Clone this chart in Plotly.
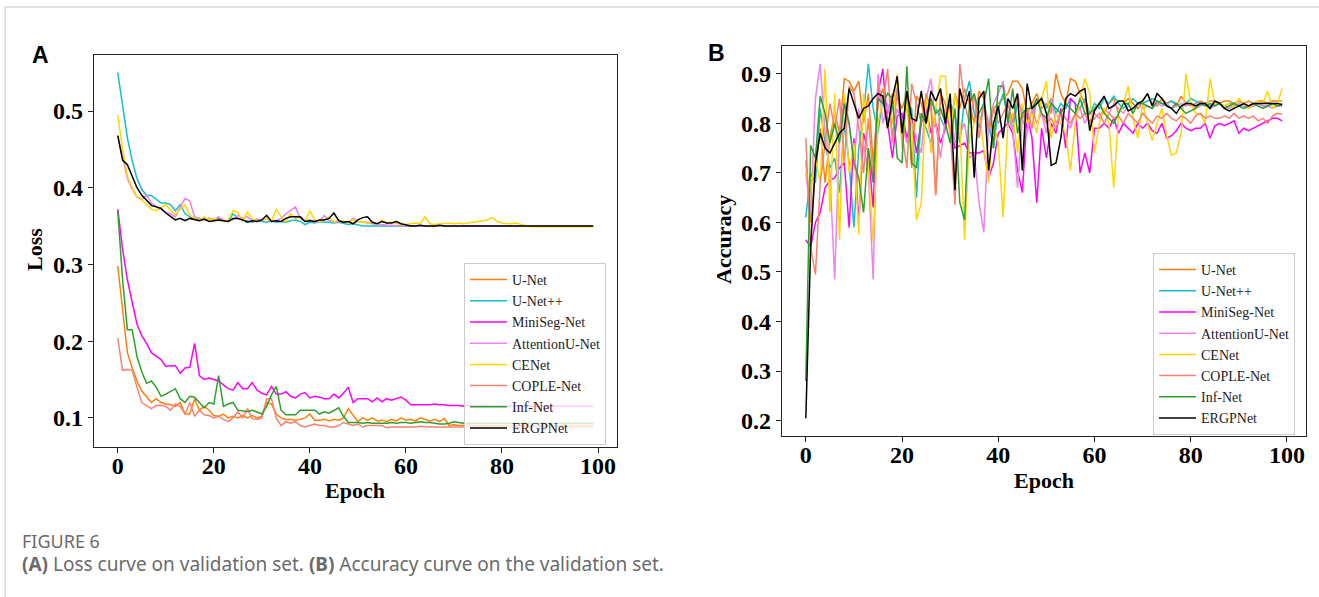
import plotly.graph_objects as go

# epochs shared by both panels
epochs = list(range(100))

model_names = ["U-Net", "U-Net++", "MiniSeg-Net", "AttentionU-Net",
               "CENet", "COPLE-Net", "Inf-Net", "ERGPNet"]
model_colors = ["#ff7f0e", "#17becf", "#ff00ff", "#ee82ee",
                "#ffd700", "#fa8072", "#2ca02c", "#000000"]

# ---- panel A: validation loss ----
unet_loss = [
    0.298, 0.240, 0.185, 0.165, 0.148, 0.135, 0.127, 0.120, 0.125, 0.120,
    0.118, 0.117, 0.115, 0.120, 0.105, 0.105, 0.125, 0.110, 0.115, 0.110,
    0.103, 0.102, 0.105, 0.100, 0.102, 0.100, 0.103, 0.100, 0.103, 0.100,
    0.102, 0.120, 0.118, 0.105, 0.100, 0.098, 0.098, 0.097, 0.098, 0.100,
    0.105, 0.097, 0.097, 0.098, 0.096, 0.098, 0.097, 0.100, 0.112, 0.103,
    0.095, 0.100, 0.097, 0.100, 0.096, 0.097, 0.095, 0.098, 0.096, 0.100,
    0.097, 0.098, 0.096, 0.100, 0.098, 0.096, 0.098, 0.095, 0.099, 0.090,
    0.091, 0.090, 0.090, 0.091, 0.090, 0.090, 0.090, 0.090, 0.090, 0.090,
    0.090, 0.090, 0.090, 0.090, 0.090, 0.090, 0.090, 0.090, 0.090, 0.090,
    0.090, 0.090, 0.090, 0.090, 0.090, 0.090, 0.090, 0.090, 0.090, 0.090]
unetpp_loss = [
    0.550, 0.505, 0.465, 0.435, 0.412, 0.398, 0.390, 0.390, 0.385, 0.380,
    0.380, 0.378, 0.370, 0.378, 0.366, 0.362, 0.360, 0.360, 0.358, 0.360,
    0.358, 0.360, 0.357, 0.356, 0.366, 0.360, 0.358, 0.357, 0.355, 0.358,
    0.356, 0.355, 0.357, 0.355, 0.356, 0.355, 0.357, 0.358, 0.356, 0.352,
    0.355, 0.354, 0.356, 0.355, 0.355, 0.354, 0.355, 0.353, 0.352, 0.353,
    0.351, 0.350, 0.350, 0.350, 0.350, 0.350, 0.350, 0.350, 0.350, 0.350,
    0.350, 0.350, 0.350, 0.350, 0.350, 0.350, 0.350, 0.350, 0.350, 0.350,
    0.350, 0.350, 0.350, 0.350, 0.350, 0.350, 0.350, 0.350, 0.350, 0.350,
    0.350, 0.350, 0.350, 0.350, 0.350, 0.350, 0.350, 0.350, 0.350, 0.350,
    0.350, 0.350, 0.350, 0.350, 0.350, 0.350, 0.350, 0.350, 0.350, 0.350]
miniseg_loss = [
    0.372, 0.320, 0.280, 0.250, 0.222, 0.207, 0.197, 0.185, 0.180, 0.176,
    0.167, 0.168, 0.168, 0.158, 0.165, 0.166, 0.197, 0.155, 0.150, 0.152,
    0.150, 0.148, 0.143, 0.138, 0.136, 0.146, 0.138, 0.138, 0.146, 0.136,
    0.132, 0.130, 0.141, 0.131, 0.131, 0.134, 0.128, 0.126, 0.131, 0.133,
    0.126, 0.128, 0.127, 0.125, 0.125, 0.131, 0.126, 0.132, 0.140, 0.120,
    0.125, 0.125, 0.125, 0.121, 0.126, 0.121, 0.125, 0.123, 0.125, 0.127,
    0.123, 0.117, 0.117, 0.117, 0.117, 0.117, 0.118, 0.117, 0.117, 0.116,
    0.116, 0.116, 0.115, 0.116, 0.116, 0.116, 0.116, 0.116, 0.115, 0.116,
    0.116, 0.115, 0.115, 0.115, 0.115, 0.115, 0.115, 0.115, 0.115, 0.115,
    0.115, 0.115, 0.115, 0.115, 0.115, 0.115, 0.115, 0.115, 0.115, 0.115]
attn_loss = [
    0.468, 0.440, 0.412, 0.398, 0.388, 0.385, 0.390, 0.380, 0.376, 0.372,
    0.368, 0.366, 0.362, 0.375, 0.386, 0.383, 0.362, 0.360, 0.358, 0.360,
    0.358, 0.362, 0.358, 0.356, 0.358, 0.364, 0.360, 0.362, 0.357, 0.359,
    0.357, 0.360, 0.356, 0.357, 0.360, 0.366, 0.370, 0.375, 0.360, 0.356,
    0.358, 0.355, 0.356, 0.364, 0.357, 0.356, 0.355, 0.356, 0.355, 0.360,
    0.356, 0.355, 0.355, 0.353, 0.352, 0.352, 0.351, 0.351, 0.350, 0.351,
    0.350, 0.350, 0.350, 0.350, 0.350, 0.350, 0.350, 0.350, 0.350, 0.350,
    0.350, 0.350, 0.350, 0.350, 0.350, 0.350, 0.350, 0.350, 0.350, 0.350,
    0.350, 0.350, 0.350, 0.350, 0.350, 0.350, 0.350, 0.350, 0.350, 0.350,
    0.350, 0.350, 0.350, 0.350, 0.350, 0.350, 0.350, 0.350, 0.350, 0.350]
cenet_loss = [
    0.495, 0.450, 0.415, 0.400, 0.388, 0.384, 0.378, 0.372, 0.370, 0.374,
    0.378, 0.370, 0.365, 0.372, 0.378, 0.364, 0.360, 0.358, 0.362, 0.358,
    0.360, 0.358, 0.356, 0.358, 0.370, 0.368, 0.356, 0.368, 0.360, 0.356,
    0.358, 0.360, 0.356, 0.372, 0.362, 0.356, 0.366, 0.360, 0.362, 0.356,
    0.370, 0.358, 0.356, 0.358, 0.362, 0.355, 0.358, 0.356, 0.354, 0.358,
    0.355, 0.356, 0.353, 0.356, 0.352, 0.358, 0.354, 0.355, 0.353, 0.352,
    0.352, 0.353, 0.354, 0.353, 0.362, 0.353, 0.352, 0.353, 0.353, 0.354,
    0.353, 0.354, 0.353, 0.354, 0.355, 0.356, 0.357, 0.358, 0.361, 0.356,
    0.354, 0.353, 0.353, 0.354, 0.352, 0.350, 0.349, 0.349, 0.349, 0.349,
    0.349, 0.349, 0.349, 0.349, 0.349, 0.349, 0.349, 0.349, 0.349, 0.349]
cople_loss = [
    0.204, 0.162, 0.163, 0.162, 0.140, 0.120, 0.116, 0.112, 0.116, 0.116,
    0.115, 0.110, 0.118, 0.115, 0.105, 0.120, 0.102, 0.110, 0.104, 0.103,
    0.100, 0.102, 0.098, 0.095, 0.100, 0.108, 0.100, 0.112, 0.099, 0.098,
    0.100, 0.125, 0.125, 0.100, 0.090, 0.095, 0.093, 0.095, 0.090, 0.088,
    0.090, 0.092, 0.090, 0.090, 0.088, 0.088, 0.090, 0.094, 0.092, 0.090,
    0.092, 0.088, 0.090, 0.090, 0.090, 0.090, 0.087, 0.088, 0.088, 0.088,
    0.088, 0.088, 0.088, 0.089, 0.088, 0.088, 0.088, 0.088, 0.088, 0.088,
    0.088, 0.088, 0.088, 0.088, 0.088, 0.088, 0.088, 0.088, 0.088, 0.088,
    0.088, 0.088, 0.088, 0.088, 0.088, 0.088, 0.088, 0.088, 0.088, 0.088,
    0.088, 0.088, 0.088, 0.088, 0.088, 0.088, 0.088, 0.088, 0.088, 0.088]
inf_loss = [
    0.370, 0.280, 0.215, 0.215, 0.180, 0.160, 0.145, 0.148, 0.140, 0.128,
    0.131, 0.134, 0.138, 0.125, 0.120, 0.128, 0.127, 0.120, 0.113, 0.120,
    0.118, 0.155, 0.115, 0.118, 0.120, 0.110, 0.109, 0.108, 0.110, 0.107,
    0.105, 0.115, 0.130, 0.141, 0.110, 0.104, 0.104, 0.104, 0.110, 0.110,
    0.110, 0.110, 0.105, 0.108, 0.106, 0.110, 0.113, 0.102, 0.094, 0.094,
    0.094, 0.093, 0.094, 0.093, 0.093, 0.093, 0.093, 0.094, 0.093, 0.094,
    0.094, 0.093, 0.094, 0.095, 0.094, 0.094, 0.093, 0.092, 0.092, 0.093,
    0.095, 0.094, 0.093, 0.093, 0.093, 0.093, 0.093, 0.093, 0.093, 0.093,
    0.093, 0.093, 0.093, 0.093, 0.093, 0.093, 0.093, 0.093, 0.093, 0.093,
    0.093, 0.093, 0.093, 0.093, 0.093, 0.093, 0.093, 0.093, 0.093, 0.093]
ergp_loss = [
    0.468, 0.436, 0.430, 0.415, 0.400, 0.390, 0.384, 0.377, 0.375, 0.373,
    0.367, 0.362, 0.358, 0.360, 0.357, 0.360, 0.358, 0.357, 0.359, 0.356,
    0.357, 0.358, 0.357, 0.356, 0.360, 0.360, 0.358, 0.355, 0.357, 0.356,
    0.358, 0.364, 0.356, 0.357, 0.356, 0.360, 0.362, 0.362, 0.362, 0.356,
    0.357, 0.356, 0.358, 0.358, 0.360, 0.367, 0.357, 0.355, 0.356, 0.353,
    0.358, 0.361, 0.362, 0.355, 0.353, 0.356, 0.354, 0.354, 0.356, 0.353,
    0.351, 0.350, 0.350, 0.351, 0.350, 0.350, 0.350, 0.351, 0.350, 0.350,
    0.350, 0.350, 0.350, 0.350, 0.350, 0.350, 0.350, 0.350, 0.350, 0.350,
    0.350, 0.350, 0.350, 0.350, 0.350, 0.350, 0.350, 0.350, 0.350, 0.350,
    0.350, 0.350, 0.350, 0.350, 0.350, 0.350, 0.350, 0.350, 0.350, 0.350]

# ---- panel B: validation accuracy ----
unet_acc = [
    0.725, 0.60, 0.70, 0.79, 0.68, 0.77, 0.82, 0.78, 0.89, 0.885,
    0.865, 0.885, 0.80, 0.86, 0.72, 0.84, 0.87, 0.82, 0.86, 0.85,
    0.83, 0.86, 0.71, 0.855, 0.84, 0.80, 0.85, 0.655, 0.86, 0.84,
    0.78, 0.86, 0.83, 0.87, 0.84, 0.80, 0.865, 0.85, 0.78, 0.83,
    0.84, 0.85, 0.86, 0.885, 0.885, 0.87, 0.82, 0.84, 0.86, 0.83,
    0.84, 0.82, 0.90, 0.86, 0.84, 0.89, 0.885, 0.86, 0.84, 0.80,
    0.83, 0.84, 0.82, 0.84, 0.85, 0.82, 0.84, 0.85, 0.84, 0.83,
    0.845, 0.86, 0.84, 0.835, 0.85, 0.84, 0.845, 0.835, 0.855, 0.84,
    0.835, 0.84, 0.845, 0.84, 0.845, 0.845, 0.84, 0.845, 0.845, 0.84,
    0.845, 0.84, 0.845, 0.84, 0.845, 0.845, 0.84, 0.845, 0.845, 0.845]
unetpp_acc = [
    0.61, 0.70, 0.68, 0.83, 0.76, 0.71, 0.73, 0.66, 0.80, 0.72,
    0.59, 0.75, 0.82, 0.92, 0.83, 0.78, 0.85, 0.80, 0.83, 0.87,
    0.79, 0.84, 0.83, 0.65, 0.82, 0.79, 0.76, 0.83, 0.81, 0.79,
    0.84, 0.82, 0.76, 0.85, 0.885, 0.82, 0.79, 0.84, 0.80, 0.75,
    0.83, 0.86, 0.81, 0.79, 0.84, 0.83, 0.80, 0.82, 0.84, 0.85,
    0.83, 0.85, 0.82, 0.84, 0.83, 0.85, 0.84, 0.83, 0.85, 0.82,
    0.84, 0.83, 0.85, 0.84, 0.855, 0.84, 0.83, 0.84, 0.85, 0.84,
    0.84, 0.845, 0.85, 0.845, 0.84, 0.84, 0.845, 0.84, 0.83, 0.84,
    0.85, 0.845, 0.84, 0.84, 0.835, 0.84, 0.84, 0.835, 0.84, 0.84,
    0.835, 0.84, 0.835, 0.835, 0.84, 0.835, 0.835, 0.84, 0.835, 0.835]
miniseg_acc = [
    0.565, 0.55, 0.60, 0.62, 0.67, 0.685, 0.69, 0.71, 0.72, 0.59,
    0.77, 0.60, 0.78, 0.74, 0.63, 0.86, 0.91, 0.80, 0.73, 0.815,
    0.82, 0.77, 0.81, 0.74, 0.80, 0.83, 0.78, 0.80, 0.76, 0.79,
    0.84, 0.75, 0.755, 0.76, 0.74, 0.74, 0.74, 0.745, 0.69, 0.72,
    0.78, 0.79, 0.80, 0.78, 0.705, 0.66, 0.82, 0.77, 0.64, 0.79,
    0.73, 0.80, 0.78, 0.83, 0.75, 0.85, 0.84, 0.70, 0.74, 0.70,
    0.79, 0.79, 0.80, 0.79, 0.81, 0.78, 0.80, 0.79, 0.78, 0.80,
    0.79, 0.80, 0.785, 0.78, 0.80, 0.77, 0.775, 0.785, 0.80, 0.79,
    0.785, 0.79, 0.79, 0.80, 0.77, 0.795, 0.80, 0.795, 0.80, 0.805,
    0.78, 0.79, 0.785, 0.79, 0.795, 0.80, 0.805, 0.81, 0.81, 0.805]
attn_acc = [
    0.70, 0.62, 0.85, 0.92, 0.78, 0.70, 0.485, 0.78, 0.85, 0.80,
    0.72, 0.83, 0.76, 0.70, 0.485, 0.90, 0.80, 0.84, 0.78, 0.83,
    0.80, 0.76, 0.80, 0.77, 0.74, 0.85, 0.89, 0.80, 0.73, 0.81,
    0.83, 0.76, 0.78, 0.80, 0.73, 0.74, 0.64, 0.58, 0.80, 0.84,
    0.86, 0.885, 0.82, 0.79, 0.67, 0.81, 0.78, 0.83, 0.80, 0.82,
    0.78, 0.85, 0.80, 0.82, 0.81, 0.79, 0.82, 0.83, 0.80, 0.82,
    0.82, 0.81, 0.83, 0.82, 0.84, 0.83, 0.82, 0.835, 0.83, 0.84,
    0.83, 0.835, 0.83, 0.84, 0.835, 0.84, 0.83, 0.835, 0.84, 0.835,
    0.84, 0.83, 0.835, 0.84, 0.83, 0.835, 0.84, 0.835, 0.83, 0.835,
    0.84, 0.835, 0.83, 0.835, 0.84, 0.835, 0.835, 0.83, 0.835, 0.835]
cenet_acc = [
    0.70, 0.66, 0.73, 0.68, 0.91, 0.62, 0.86, 0.565, 0.86, 0.70,
    0.76, 0.575, 0.86, 0.72, 0.56, 0.80, 0.85, 0.79, 0.80, 0.90,
    0.75, 0.84, 0.80, 0.605, 0.64, 0.86, 0.74, 0.83, 0.895, 0.895,
    0.77, 0.86, 0.80, 0.565, 0.77, 0.80, 0.82, 0.75, 0.68, 0.80,
    0.76, 0.61, 0.80, 0.82, 0.74, 0.84, 0.80, 0.82, 0.78, 0.85,
    0.885, 0.77, 0.82, 0.80, 0.78, 0.705, 0.80, 0.85, 0.89, 0.86,
    0.74, 0.80, 0.83, 0.80, 0.67, 0.82, 0.84, 0.875, 0.81, 0.77,
    0.84, 0.80, 0.765, 0.80, 0.83, 0.775, 0.735, 0.74, 0.78, 0.90,
    0.84, 0.82, 0.82, 0.80, 0.89, 0.84, 0.84, 0.835, 0.84, 0.83,
    0.85, 0.84, 0.83, 0.84, 0.845, 0.84, 0.865, 0.83, 0.84, 0.87]
cople_acc = [
    0.77, 0.55, 0.495, 0.68, 0.76, 0.84, 0.79, 0.85, 0.72, 0.875,
    0.86, 0.79, 0.70, 0.81, 0.69, 0.88, 0.84, 0.91, 0.76, 0.87,
    0.78, 0.71, 0.88, 0.84, 0.80, 0.86, 0.83, 0.655, 0.85, 0.82,
    0.79, 0.635, 0.92, 0.84, 0.80, 0.86, 0.77, 0.84, 0.79, 0.83,
    0.80, 0.82, 0.84, 0.80, 0.86, 0.81, 0.83, 0.79, 0.85, 0.82,
    0.80, 0.81, 0.79, 0.82, 0.81, 0.80, 0.82, 0.81, 0.82, 0.80,
    0.81, 0.82, 0.80, 0.82, 0.81, 0.815, 0.80, 0.82, 0.81, 0.80,
    0.82, 0.81, 0.80, 0.815, 0.81, 0.82, 0.81, 0.805, 0.815, 0.81,
    0.80, 0.815, 0.82, 0.81, 0.815, 0.81, 0.81, 0.815, 0.81, 0.82,
    0.81, 0.815, 0.81, 0.815, 0.805, 0.81, 0.80, 0.815, 0.82, 0.818]
inf_acc = [
    0.28, 0.755, 0.73, 0.855, 0.82, 0.76, 0.80, 0.76, 0.84, 0.80,
    0.72, 0.69, 0.62, 0.75, 0.68, 0.85, 0.84, 0.86, 0.85, 0.73,
    0.72, 0.915, 0.72, 0.71, 0.82, 0.80, 0.85, 0.82, 0.83, 0.80,
    0.76, 0.83, 0.64, 0.605, 0.84, 0.86, 0.82, 0.84, 0.89, 0.75,
    0.875, 0.875, 0.80, 0.87, 0.78, 0.82, 0.83, 0.83, 0.85, 0.82,
    0.81, 0.84, 0.83, 0.82, 0.84, 0.83, 0.82, 0.85, 0.82, 0.82,
    0.83, 0.84, 0.82, 0.81, 0.80, 0.82, 0.84, 0.84, 0.82, 0.84,
    0.84, 0.835, 0.83, 0.845, 0.84, 0.835, 0.83, 0.84, 0.83, 0.82,
    0.825, 0.83, 0.84, 0.835, 0.84, 0.835, 0.84, 0.83, 0.835, 0.84,
    0.835, 0.83, 0.835, 0.84, 0.835, 0.83, 0.835, 0.84, 0.835, 0.838]
ergp_acc = [
    0.205, 0.55, 0.72, 0.78, 0.75, 0.74, 0.76, 0.78, 0.79, 0.87,
    0.84, 0.81, 0.83, 0.835, 0.85, 0.86, 0.855, 0.79, 0.85, 0.895,
    0.78, 0.865, 0.81, 0.805, 0.865, 0.80, 0.865, 0.845, 0.87, 0.80,
    0.86, 0.665, 0.87, 0.83, 0.865, 0.69, 0.85, 0.865, 0.705, 0.80,
    0.835, 0.77, 0.85, 0.83, 0.86, 0.705, 0.88, 0.83, 0.84, 0.85,
    0.82, 0.715, 0.72, 0.77, 0.85, 0.86, 0.855, 0.865, 0.87, 0.785,
    0.825, 0.84, 0.855, 0.83, 0.835, 0.845, 0.845, 0.825, 0.83, 0.84,
    0.845, 0.86, 0.835, 0.86, 0.85, 0.835, 0.83, 0.82, 0.835, 0.84,
    0.84, 0.835, 0.84, 0.84, 0.83, 0.845, 0.84, 0.83, 0.825, 0.83,
    0.835, 0.84, 0.835, 0.84, 0.84, 0.84, 0.84, 0.84, 0.84, 0.838]

loss_data = [unet_loss, unetpp_loss, miniseg_loss, attn_loss,
             cenet_loss, cople_loss, inf_loss, ergp_loss]
acc_data = [unet_acc, unetpp_acc, miniseg_acc, attn_acc,
            cenet_acc, cople_acc, inf_acc, ergp_acc]

loss_ticks = [0.1, 0.2, 0.3, 0.4, 0.5]
acc_ticks = [0.2, 0.3, 0.4, 0.5, 0.6, 0.7, 0.8, 0.9]
epoch_ticks = [0, 20, 40, 60, 80, 100]

W, H = 1319, 597


def px_x(p):
    return p / W


def px_y(p):
    return 1 - p / H


fig = go.Figure()

for name, color, ys in zip(model_names, model_colors, loss_data):
    fig.add_trace(go.Scatter(x=epochs, y=ys, name=name, mode="lines",
                             line=dict(color=color, width=1.5),
                             xaxis="x", yaxis="y", legend="legend"))
for name, color, ys in zip(model_names, model_colors, acc_data):
    fig.add_trace(go.Scatter(x=epochs, y=ys, name=name, mode="lines",
                             line=dict(color=color, width=1.5),
                             xaxis="x2", yaxis="y2", legend="legend2"))

serif = "Liberation Serif"
tickfont = dict(family=serif, size=24, color="black", weight="bold")
axis_style = dict(showline=True, mirror=True, linecolor="#222", linewidth=1.2,
                  ticks="outside", ticklen=5, tickwidth=1.2, tickcolor="#222",
                  showgrid=False, zeroline=False, automargin=False,
                  tickfont=tickfont)

legend_style = dict(font=dict(family=serif, size=14, color="#222"),
                    bgcolor="rgba(255,255,255,0.8)", bordercolor="#cccccc",
                    borderwidth=1, xanchor="left", yanchor="top",
                    itemwidth=37, tracegroupgap=0)

title_font = dict(family=serif, size=22, color="black", weight="bold")
cap_font = "Noto Sans"

fig.update_layout(
    width=W, height=H,
    margin=dict(l=0, r=0, t=0, b=0),
    paper_bgcolor="white", plot_bgcolor="white",
    xaxis=dict(domain=[px_x(94), px_x(617)], range=[-4.95, 103.95],
               tickvals=epoch_ticks, anchor="y", ticklabelstandoff=-8,
               **axis_style),
    yaxis=dict(domain=[px_y(447), px_y(55)], range=[0.062, 0.573],
               tickvals=loss_ticks, ticktext=[str(t) for t in loss_ticks],
               anchor="x", **axis_style),
    xaxis2=dict(domain=[px_x(782), px_x(1306)], range=[-4.95, 103.95],
                tickvals=epoch_ticks, anchor="y2", ticklabelstandoff=-8,
                **axis_style),
    yaxis2=dict(domain=[px_y(436), px_y(46)], range=[0.169, 0.956],
                tickvals=acc_ticks, ticktext=[str(t) for t in acc_ticks],
                anchor="x2", **axis_style),
    legend=dict(x=px_x(464), y=px_y(263), **legend_style),
    legend2=dict(x=px_x(1153), y=px_y(253), **legend_style),
    showlegend=True,
)

annos = [
    dict(text="A", x=px_x(40), y=px_y(55), font=dict(family="Liberation Sans", size=23, color="black", weight="bold")),
    dict(text="B", x=px_x(716), y=px_y(53), font=dict(family="Liberation Sans", size=23, color="black", weight="bold")),
    dict(text="Loss", x=px_x(35), y=px_y(250), textangle=-90, font=title_font),
    dict(text="Epoch", x=px_x(355), y=px_y(490), font=title_font),
    dict(text="Accuracy", x=px_x(724), y=px_y(240), textangle=-90, font=title_font),
    dict(text="Epoch", x=px_x(1044), y=px_y(480), font=title_font),
]
for a in annos:
    fig.add_annotation(xref="paper", yref="paper", showarrow=False,
                       xanchor="center", yanchor="middle", **a)

# caption under the figure
fig.add_annotation(xref="paper", yref="paper", showarrow=False,
                   x=px_x(20), y=px_y(541), xanchor="left", yanchor="middle",
                   text="FIGURE 6", font=dict(family=cap_font, size=18, color="#6b6b6b"))
fig.add_annotation(xref="paper", yref="paper", showarrow=False,
                   x=px_x(20), y=px_y(564), xanchor="left", yanchor="middle",
                   text="<b>(A)</b> Loss curve on validation set. <b>(B)</b> Accuracy curve on the validation set.",
                   font=dict(family=cap_font, size=19, color="#6b6b6b"))

# light card border (top and left edges)
fig.add_shape(type="line", xref="paper", yref="paper",
              x0=px_x(5), x1=1, y0=px_y(7), y1=px_y(7),
              line=dict(color="#d6d6d6", width=1.5))
fig.add_shape(type="line", xref="paper", yref="paper",
              x0=px_x(5), x1=px_x(5), y0=px_y(7), y1=0,
              line=dict(color="#d6d6d6", width=1.5))

fig.write_html("out.html", config={"displayModeBar": False},
               post_script="document.body.style.margin='0px';")
